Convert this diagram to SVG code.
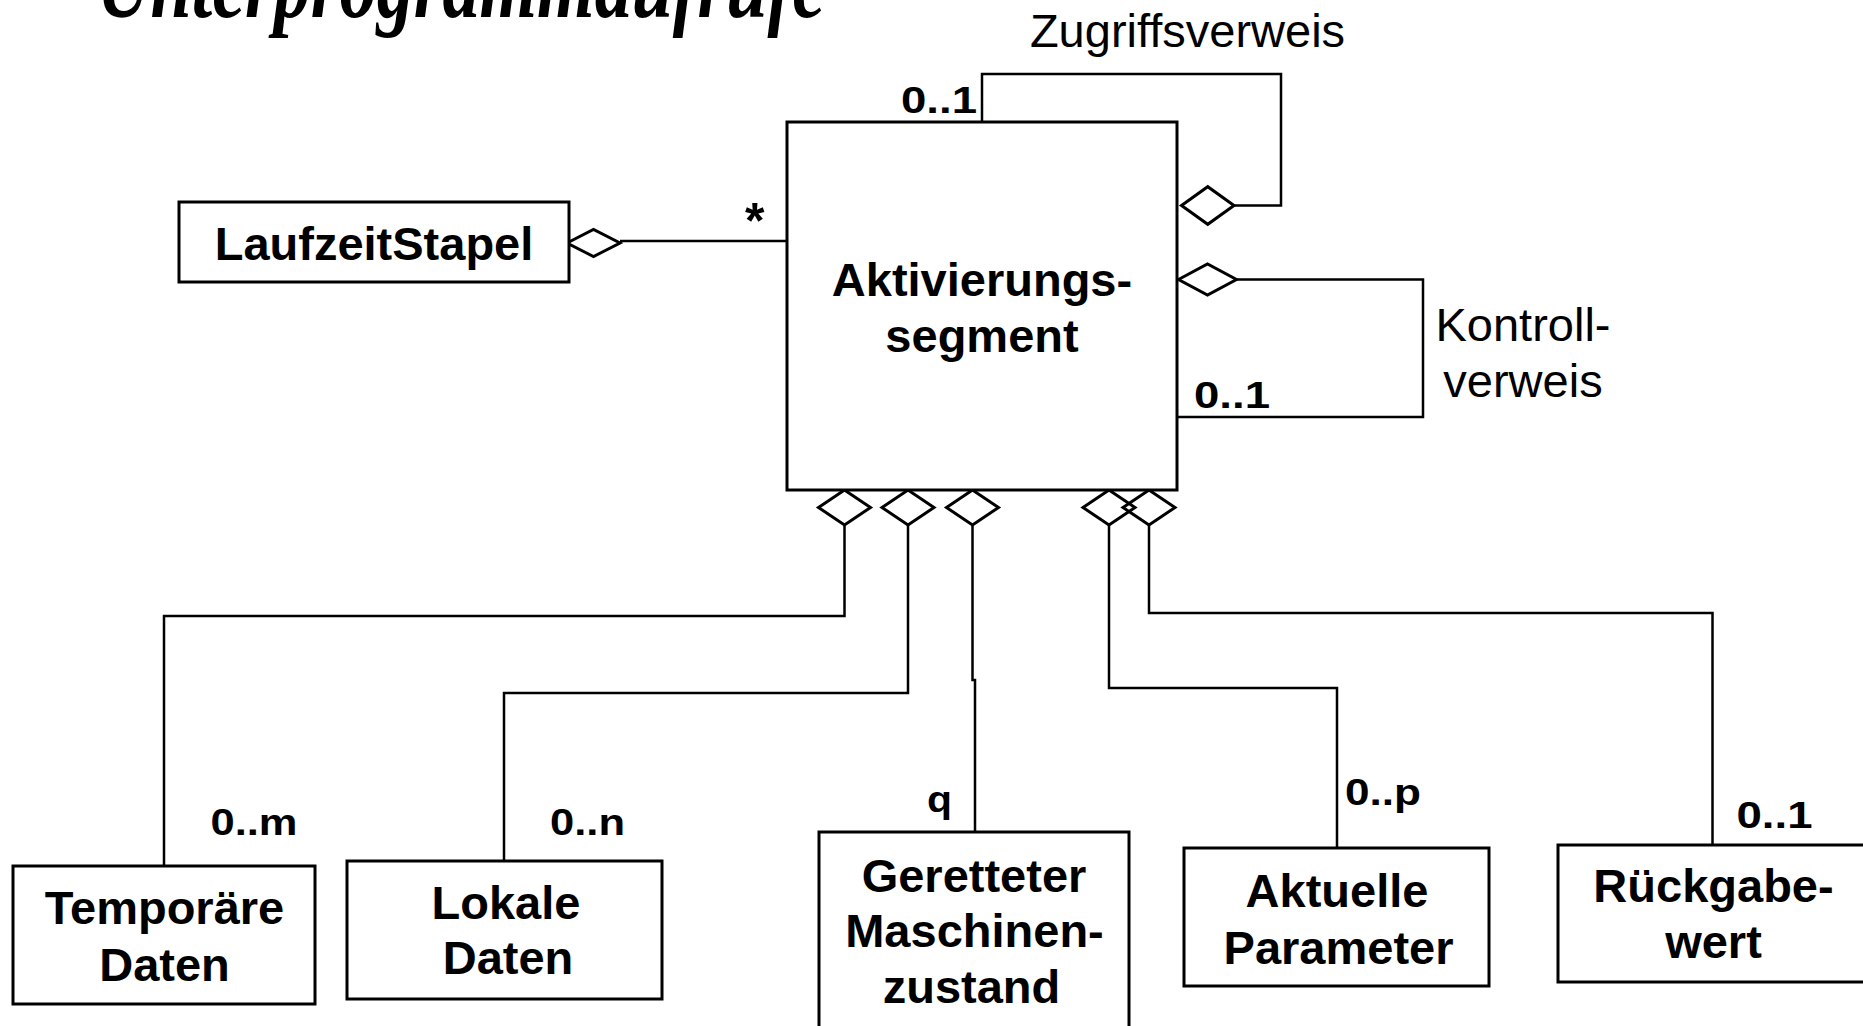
<svg xmlns="http://www.w3.org/2000/svg" width="1863" height="1026" viewBox="0 0 1863 1026">
  <style>
    .box { fill: #fff; stroke: #000; stroke-width: 3; }
    .line { fill: none; stroke: #000; stroke-width: 2.5; }
    .dia { fill: none; stroke: #000; stroke-width: 3; stroke-linejoin: miter; }
    .name { font-family: "Liberation Sans", Arial, sans-serif; font-weight: bold; font-size: 47px; text-anchor: middle; fill: #000; }
    .role { font-family: "Liberation Sans", Arial, sans-serif; font-size: 47px; text-anchor: middle; fill: #000; }
    .mult { font-family: "Liberation Sans", Arial, sans-serif; font-weight: bold; font-size: 37px; fill: #000; }
    .title { font-family: "Liberation Serif", "Times New Roman", serif; font-weight: bold; font-style: italic; font-size: 98px; fill: #000; }
  </style>
  <rect width="1863" height="1026" fill="#fff"/>

  <text class="title" x="97" y="17" textLength="728" lengthAdjust="spacingAndGlyphs">Unterprogrammaufrufe</text>

  <!-- associations and aggregation diamonds -->
  <g id="connectors">
    <!-- LaufzeitStapel to Aktivierungssegment -->
    <path class="line" d="M620,241 H791"/>
    <polygon class="dia" points="567,243 593.5,229.5 620,243 593.5,256.5"/>
    <text class="mult" x="745" y="238" style="font-size:50px">*</text>

    <!-- Zugriffsverweis self-association -->
    <path class="line" d="M982,122 V74 H1281 V205.5 H1234"/>
    <polygon class="dia" points="1181.5,205.5 1207.75,186.7 1234,205.5 1207.75,224.3"/>
    <text class="mult" x="901" y="113" textLength="76" lengthAdjust="spacingAndGlyphs">0..1</text>
    <text class="role" x="1187.5" y="46.7">Zugriffsverweis</text>

    <!-- Kontrollverweis self-association -->
    <path class="line" d="M1236.5,279.5 H1423 V417 H1177"/>
    <polygon class="dia" points="1178.5,279.5 1207.5,264 1236.5,279.5 1207.5,295"/>
    <text class="mult" x="1194" y="408" textLength="76" lengthAdjust="spacingAndGlyphs">0..1</text>
    <text class="role" x="1523" y="340.7">Kontroll-</text>
    <text class="role" x="1523" y="396.7">verweis</text>

    <!-- aggregations below the Aktivierungssegment -->
    <polygon class="dia" points="818.5,507.5 844.5,490 870.5,507.5 844.5,525"/>
    <polygon class="dia" points="882,507.5 908,490 934,507.5 908,525"/>
    <polygon class="dia" points="946.5,507.5 972.5,490 998.5,507.5 972.5,525"/>
    <polygon class="dia" points="1083,507.5 1109,490 1135,507.5 1109,525"/>
    <polygon class="dia" points="1123,507.5 1149,490 1175,507.5 1149,525"/>

    <path class="line" d="M844.5,525 V616 H164 V866"/>
    <path class="line" d="M908,525 V693 H504 V861"/>
    <path class="line" d="M972.5,525 V680 H975 V832"/>
    <path class="line" d="M1109,525 V688 H1337 V848"/>
    <path class="line" d="M1149,525 V613 H1712.5 V845"/>

    <text class="mult" x="210.5" y="835" textLength="87" lengthAdjust="spacingAndGlyphs">0..m</text>
    <text class="mult" x="550" y="835" textLength="75" lengthAdjust="spacingAndGlyphs">0..n</text>
    <text class="mult" x="927" y="811.7" textLength="25" lengthAdjust="spacingAndGlyphs">q</text>
    <text class="mult" x="1345" y="805" textLength="76" lengthAdjust="spacingAndGlyphs">0..p</text>
    <text class="mult" x="1736.5" y="828" textLength="76" lengthAdjust="spacingAndGlyphs">0..1</text>
  </g>

  <g id="laufzeitstapel">
    <rect class="box" x="179" y="202" width="390" height="80"/>
    <text class="name" x="374" y="260">LaufzeitStapel</text>
  </g>

  <g id="aktivierungssegment">
    <rect class="box" x="787" y="122" width="390" height="368"/>
    <text class="name" x="982" y="296">Aktivierungs-</text>
    <text class="name" x="982" y="352">segment</text>
  </g>

  <g id="temporaere-daten">
    <rect class="box" x="13" y="866" width="302" height="138"/>
    <text class="name" x="164.5" y="924">Temporäre</text>
    <text class="name" x="164.5" y="981">Daten</text>
  </g>

  <g id="lokale-daten">
    <rect class="box" x="347" y="861" width="315" height="138"/>
    <text class="name" x="506" y="918.7">Lokale</text>
    <text class="name" x="508" y="974.4">Daten</text>
  </g>

  <g id="maschinenzustand">
    <rect class="box" x="819" y="832" width="310" height="220"/>
    <text class="name" x="974" y="892">Geretteter</text>
    <text class="name" x="974.5" y="947">Maschinen-</text>
    <text class="name" x="971.5" y="1003">zustand</text>
  </g>

  <g id="aktuelle-parameter">
    <rect class="box" x="1184" y="848" width="305" height="138"/>
    <text class="name" x="1337" y="906.5">Aktuelle</text>
    <text class="name" x="1338.5" y="964">Parameter</text>
  </g>

  <g id="rueckgabewert">
    <rect class="box" x="1558" y="845" width="312" height="137"/>
    <text class="name" x="1713.5" y="902">Rückgabe-</text>
    <text class="name" x="1713.5" y="958">wert</text>
  </g>
</svg>
